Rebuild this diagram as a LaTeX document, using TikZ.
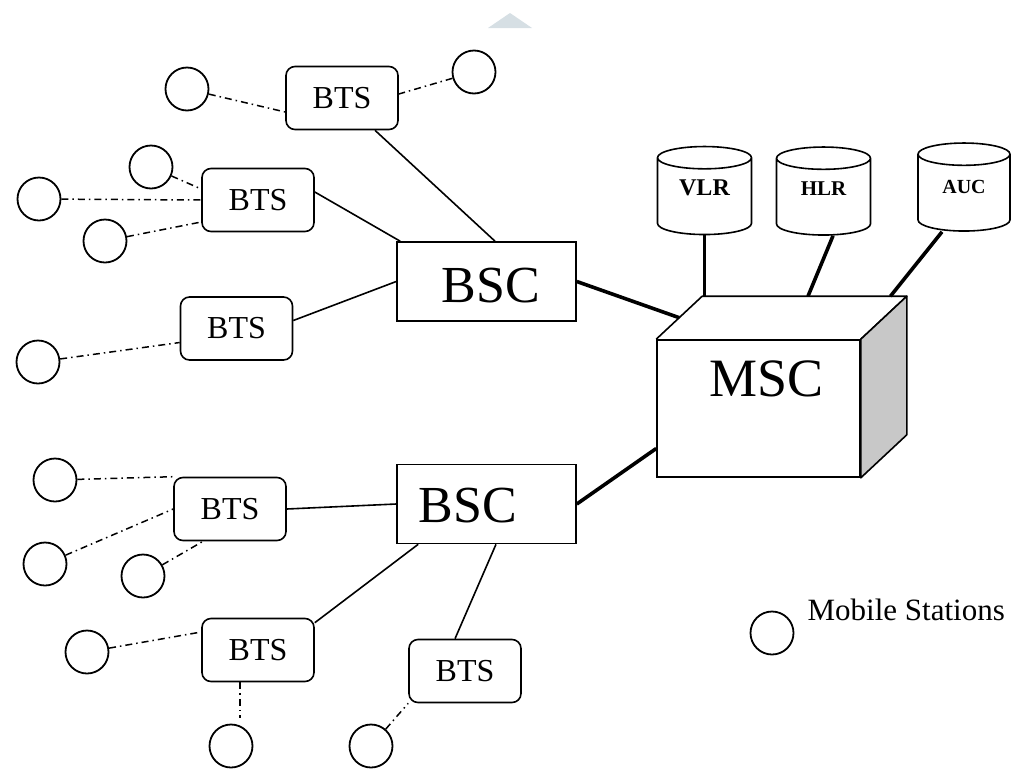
\documentclass[tikz,border=0pt]{standalone}
\usepackage{fontspec}
\setmainfont{Liberation Serif}
\usetikzlibrary{shapes.geometric,calc,positioning}
\definecolor{color_mark}{RGB}{214, 223, 228}
\definecolor{color_side}{RGB}{200, 200, 200}

\begin{document}
\begin{tikzpicture}[
    x=1pt, y=-1pt,
    bts/.style={draw,line width=1.6pt,rounded corners=9pt,minimum width=112pt,minimum height=63pt,
        inner sep=0,font=\fontsize{32}{34}\selectfont},
    bsc/.style={draw,line width=1.6pt,minimum width=179pt,minimum height=79pt,inner sep=0},
    bigtext/.style={inner sep=0,font=\fontsize{52}{56}\selectfont},
    ms/.style={circle,draw,line width=1.8pt,minimum size=43pt,inner sep=0},
    db/.style={cylinder,shape border rotate=90,draw,line width=1.6pt,aspect=0.48,
        minimum width=94pt,minimum height=88pt,inner sep=0,font=\bfseries\fontsize{22}{22}\selectfont},
    dbtext/.style={inner sep=0,yshift=8.5pt,font=\bfseries\fontsize{#1}{#1}\selectfont},
    wire/.style={line width=1.6pt},
    trunk/.style={line width=3.6pt},
    radio/.style={line width=1.5pt,dash pattern=on 7pt off 4pt on 1.5pt off 4pt}
]
    % picture is 1012 x 769, y runs downwards
    \useasboundingbox (0,0) rectangle (1012,769);

    \fill[color_mark] (488,28) -- (510,13) -- (532,28) -- cycle;

    % base transceiver stations
    \foreach \name/\x/\y in {
        bts1/342/98, bts2/258/200, bts3/236.5/328.5,
        bts4/230/509, bts5/258/650, bts6/465/671
    }{
        \node[bts] (\name) at (\x,\y) {BTS};
    }

    % mobile stations
    \foreach \name/\x/\y in {
        m1/187/89, m2/474/72, m3/151/167, m4/39/199, m5/105/241, m6/38/362,
        m7/55/480, m8/45/564, m9/143/576, m10/87/652, m11/231/746, m12/371/746
    }{
        \node[ms] (\name) at (\x,\y) {};
    }

    % base station controllers
    \node[bsc,label={[bigtext,xshift=4.5pt,yshift=-4.5pt]center:BSC}] (bsc1) at (486.5,281.5) {};
    \node[bsc,label={[bigtext,xshift=-18.5pt,yshift=-2pt]center:BSC}] (bsc2) at (486.5,504) {};

    % MSC cube
    \node[draw,line width=1.6pt,minimum width=203pt,minimum height=137pt,inner sep=0,
        label={[inner sep=0,font=\fontsize{54}{58}\selectfont,xshift=8pt,yshift=29.5pt]center:MSC}]
        (msc) at (758.5,408.5) {};
    \coordinate (mscbl) at ([shift={(46pt,43pt)}]msc.north west);
    \coordinate (mscbr) at ([shift={(46pt,43pt)}]msc.north east);
    \coordinate (mscbd) at ([shift={(46pt,43pt)}]msc.south east);
    \draw[line width=1.6pt,line join=round] (msc.north west) -- (mscbl) -- (mscbr) -- (msc.north east);
    \filldraw[line width=1.6pt,line join=round,fill=color_side]
        (msc.north east) -- (mscbr) -- (mscbd) -- (msc.south east) -- cycle;

    % registers
    \node[db,label={[dbtext=24]center:VLR}] (vlr) at (704.5,196.5) {\phantom{VLR}};
    \node[db,label={[dbtext=21]center:HLR}] (hlr) at (823.5,197) {\phantom{VLR}};
    \node[db,minimum width=92pt,label={[dbtext=20,yshift=-2pt]center:AUC}] (auc) at (964,193) {\phantom{VLR}};

    \draw[trunk] (vlr.south) -- (vlr.south |- mscbl);
    \draw[trunk] ([xshift=9.5pt]hlr.south) -- ($(mscbl)!0.517!(mscbr)$);
    \draw[trunk] ([xshift=-22pt]auc.south) -- ($(mscbl)!0.92!(mscbr)$);
    \draw[trunk] (bsc1.east) -- ($(msc.north west)!0.5!(mscbl)$);
    \draw[trunk] (bsc2.east) -- ([yshift=-40pt]msc.west);

    % BTS -- BSC
    \draw[wire] ([xshift=33pt]bts1.south) -- ([xshift=8.5pt]bsc1.north);
    \draw[wire] ([yshift=8pt]bts2.east) -- ([xshift=4pt]bsc1.north west);
    \draw[wire] ([yshift=8pt]bts3.east) -- (bsc1.west);
    \draw[wire] (bts4.east) -- (bsc2.west);
    \draw[wire] ([yshift=-5pt]bts5.north east) -- ([xshift=22pt]bsc2.south west);
    \draw[wire] ([xshift=-10pt]bts6.north) -- ([xshift=9.5pt]bsc2.south);

    % radio links
    \draw[radio] (m1) -- ([yshift=-14pt]bts1.west);
    \draw[radio] (m2) -- ([yshift=4pt]bts1.east);
    \draw[radio] (m3) -- ([yshift=11pt]bts2.west);
    \draw[radio] (m4) -- (bts2.west);
    \draw[radio] (m5) -- ([yshift=-22pt]bts2.west);
    \draw[radio] (m6) -- ([yshift=-14pt]bts3.west);
    \draw[radio] (m7) -- (bts4.north west);
    \draw[radio] (m8) -- (bts4.west);
    \draw[radio] (m9) -- ([xshift=-27pt]bts4.south);
    \draw[radio] (m10) -- ([yshift=18pt]bts5.west);
    \draw[radio] ([xshift=-18pt]bts5.south) -- ([xshift=-18pt,yshift=6pt]bts5.south |- m11.north);
    \draw[radio] (m12) -- (bts6.south west);

    % legend
    \node[ms] (legendms) at (772,633) {};
    \node[inner sep=0,anchor=base west,font=\fontsize{31}{33}\selectfont]
        (legendtext) at ([shift={(13pt,13pt)}]legendms.east) {Mobile Stations};

\end{tikzpicture}
\end{document}
